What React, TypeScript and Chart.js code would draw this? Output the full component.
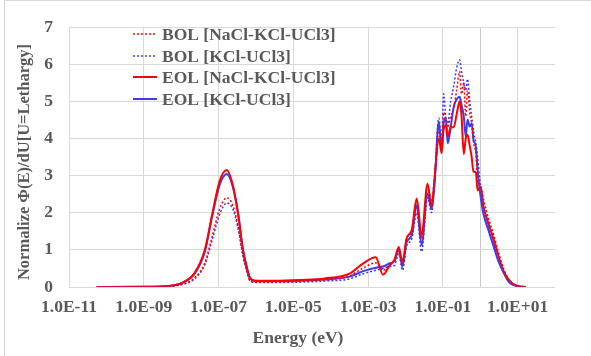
import { useEffect, useRef } from 'react';
import { Chart, registerables } from 'chart.js';
Chart.register(...registerables);

const energyEv = [
  5.5e-11, 1e-9, 3.6e-9, 1.1e-8, 2.3e-8, 4.3e-8, 6.9e-8, 1.07e-7, 1.66e-7, 2.4e-7,
  3.3e-7, 4.5e-7, 5.8e-7, 6.9e-7, 9.3e-7, 3.2e-6, 1.5e-5, 6.9e-5, 3.2e-4, 7.1e-4,
  1.6e-3, 2.5e-3, 3.8e-3, 5.1e-3, 6.6e-3, 8.3e-3, 1.07e-2, 1.48e-2, 2.0e-2, 2.7e-2,
  3.9e-2, 5.0e-2, 6.0e-2, 7.8e-2, 9.3e-2, 0.105, 0.12, 0.135, 0.162, 0.195,
  0.234, 0.28, 0.316, 0.363, 0.41, 0.457, 0.525, 0.59, 0.66, 0.76,
  0.85, 1.02, 1.23, 1.66, 2.3, 3.1, 4.3, 5.8, 7.9, 11, 16.6,
];

const bolNaClKCl = [
  0, 0.003, 0.015, 0.08, 0.25, 0.65, 1.4, 2.1, 2.4, 2.2,
  1.65, 0.85, 0.4, 0.18, 0.13, 0.13, 0.15, 0.19, 0.3, 0.5,
  0.65, 0.45, 0.6, 0.72, 1.0, 0.62, 1.3, 1.5, 2.3, 1.3,
  2.7, 2.3, 3.0, 4.2, 3.8, 4.7, 4.5, 4.3, 4.6, 4.8,
  5.3, 5.8, 5.2, 5.5, 4.6, 5.3, 4.7, 4.4, 3.9, 3.6,
  2.9, 2.75, 2.35, 1.85, 1.4, 0.92, 0.47, 0.21, 0.08, 0.02, 0,
];

const bolKCl = [
  0, 0.003, 0.012, 0.07, 0.22, 0.6, 1.3, 1.95, 2.26, 2.1,
  1.6, 0.85, 0.4, 0.17, 0.12, 0.12, 0.13, 0.16, 0.22, 0.35,
  0.45, 0.5, 0.55, 0.58, 0.9, 0.45, 1.1, 1.3, 2.0, 0.95,
  2.4, 2.0, 2.8, 4.55, 3.9, 5.2, 4.6, 4.4, 5.0, 5.4,
  5.9, 6.12, 5.8, 5.5, 5.3, 5.6, 5.0, 4.6, 4.2, 3.9,
  3.5, 2.7, 2.1, 1.6, 1.15, 0.72, 0.38, 0.15, 0.05, 0.01, 0,
];

const eolNaClKCl = [
  0, 0.005, 0.02, 0.12, 0.38, 1.0, 2.0, 2.85, 3.15, 2.75,
  2.0, 1.0, 0.5, 0.25, 0.17, 0.17, 0.19, 0.23, 0.36, 0.62,
  0.8, 0.33, 0.58, 0.74, 1.08, 0.68, 1.3, 1.55, 2.38, 1.4,
  2.78, 2.15, 2.9, 4.0, 3.6, 4.25, 4.35, 4.05, 4.3, 4.3,
  4.65, 5.0, 4.6, 3.58, 4.0, 4.1, 3.8, 3.5, 3.1, 3.1,
  2.6, 2.7, 2.16, 1.71, 1.27, 0.82, 0.41, 0.19, 0.07, 0.02, 0,
];

const eolKCl = [
  0, 0.005, 0.02, 0.12, 0.36, 0.95, 1.95, 2.75, 3.04, 2.7,
  2.0, 1.0, 0.5, 0.24, 0.17, 0.16, 0.17, 0.2, 0.28, 0.42,
  0.52, 0.55, 0.64, 0.7, 1.02, 0.55, 1.2, 1.4, 2.2, 1.13,
  2.52, 2.1, 2.8, 4.45, 3.7, 4.4, 4.54, 3.87, 4.3, 4.85,
  5.05, 5.12, 4.9, 4.59, 4.05, 4.5, 4.32, 4.41, 3.96, 3.78,
  3.15, 2.45, 1.95, 1.53, 1.08, 0.68, 0.37, 0.14, 0.05, 0.01, 0,
];

const seriesLabels = [
  'BOL [NaCl-KCl-UCl3]',
  'BOL [KCl-UCl3]',
  'EOL [NaCl-KCl-UCl3]',
  'EOL [KCl-UCl3]',
];

const xTickValues = [1e-11, 1e-9, 1e-7, 1e-5, 1e-3, 1e-1, 1, 1e1];
const yTitle = 'Normalize Φ(E)/dU[U=Lethargy]';
const xTitle = 'Energy (eV)';

const FONT = "'Liberation Serif', 'Times New Roman', serif";
const TEXT = '#595959';
const RED = '#ff0000';
const BLUE = '#3b3bf7';

function fmtTick(v: number): string {
  if (v === 1) return '';
  const e = Math.round(Math.log10(v));
  const s = String(Math.abs(e)).padStart(2, '0');
  return '1.0E' + (e < 0 ? '-' : '+') + s;
}

export default function App() {
  const ref = useRef<HTMLCanvasElement>(null);
  useEffect(() => {
    const pts = (arr: number[]) => energyEv.map((e, i) => ({ x: e, y: arr[i] }));
    const styles = [
      { color: RED, dash: [2, 2], width: 1.5 },
      { color: BLUE, dash: [2, 2], width: 1.5 },
      { color: RED, dash: [], width: 2 },
      { color: BLUE, dash: [], width: 2 },
    ];
    const values = [bolNaClKCl, bolKCl, eolNaClKCl, eolKCl];

    const overlay = {
      id: 'overlay',
      afterDraw(chart: any) {
        const ctx = chart.ctx;
        ctx.save();
        ctx.font = `bold 17.5px ${FONT}`;
        ctx.fillStyle = TEXT;
        ctx.textBaseline = 'middle';
        const rows = [34, 56, 77, 99];
        rows.forEach((y, i) => {
          const st = styles[i];
          ctx.beginPath();
          ctx.strokeStyle = st.color;
          ctx.lineWidth = st.width;
          ctx.setLineDash(st.dash);
          ctx.moveTo(133, y);
          ctx.lineTo(157, y);
          ctx.stroke();
          ctx.setLineDash([]);
          ctx.textAlign = 'left';
          ctx.fillText(seriesLabels[i], 162, y + 1);
        });
        ctx.textAlign = 'center';
        ctx.fillText(xTitle, 298, 338);
        ctx.font = `bold 16.5px ${FONT}`;
        ctx.translate(25, 162);
        ctx.rotate(-Math.PI / 2);
        ctx.fillText(yTitle, 0, 0);
        ctx.restore();
      },
    };

    const chart = new Chart(ref.current as HTMLCanvasElement, {
      type: 'line',
      data: {
        datasets: values.map((v, i) => ({
          label: seriesLabels[i],
          data: pts(v),
          borderColor: styles[i].color,
          borderDash: styles[i].dash,
          borderWidth: styles[i].width,
          pointRadius: 0,
          fill: false,
          cubicInterpolationMode: 'monotone',
        })),
      },
      options: {
        responsive: false,
        animation: false,
        layout: { padding: { top: 27, right: 36, left: 0, bottom: 0 } },
        plugins: { legend: { display: false }, tooltip: { enabled: false } },
        scales: {
          x: {
            type: 'logarithmic',
            min: 1e-11,
            max: 1e2,
            border: { display: false },
            grid: {
              color: (c: any) => (c.tick && c.tick.value === 1 ? '#c8c8c8' : '#d9d9d9'),
              drawTicks: false,
              lineWidth: 1,
            },
            ticks: {
              autoSkip: false,
              maxRotation: 0,
              padding: 10,
              color: TEXT,
              font: { family: FONT, size: 17.5, weight: 'bold' },
              callback: (v: any) => fmtTick(Number(v)),
            },
            afterBuildTicks: (s: any) => {
              s.ticks = xTickValues.map((v) => ({ value: v }));
            },
            afterFit: (s: any) => {
              s.height = 69;
            },
          },
          y: {
            min: 0,
            max: 7,
            border: { display: false },
            grid: { color: '#d9d9d9', drawTicks: false, lineWidth: 1 },
            ticks: {
              stepSize: 1,
              padding: 16,
              color: TEXT,
              font: { family: FONT, size: 17.5, weight: 'bold' },
            },
            afterFit: (s: any) => {
              s.width = 69;
            },
          },
        },
      } as any,
      plugins: [overlay],
    });
    return () => chart.destroy();
  }, []);

  return (
    <div style={{ position: 'fixed', left: 0, top: 0, width: 591, height: 356, background: '#fff', overflow: 'hidden' }}>
      <div
        style={{
          position: 'absolute',
          left: 4,
          top: 0,
          width: 600,
          height: 400,
          border: '1px solid #d9d9d9',
          boxSizing: 'border-box',
        }}
      />
      <canvas ref={ref} width={591} height={356} style={{ position: 'absolute', left: 0, top: 0 }} />
    </div>
  );
}
